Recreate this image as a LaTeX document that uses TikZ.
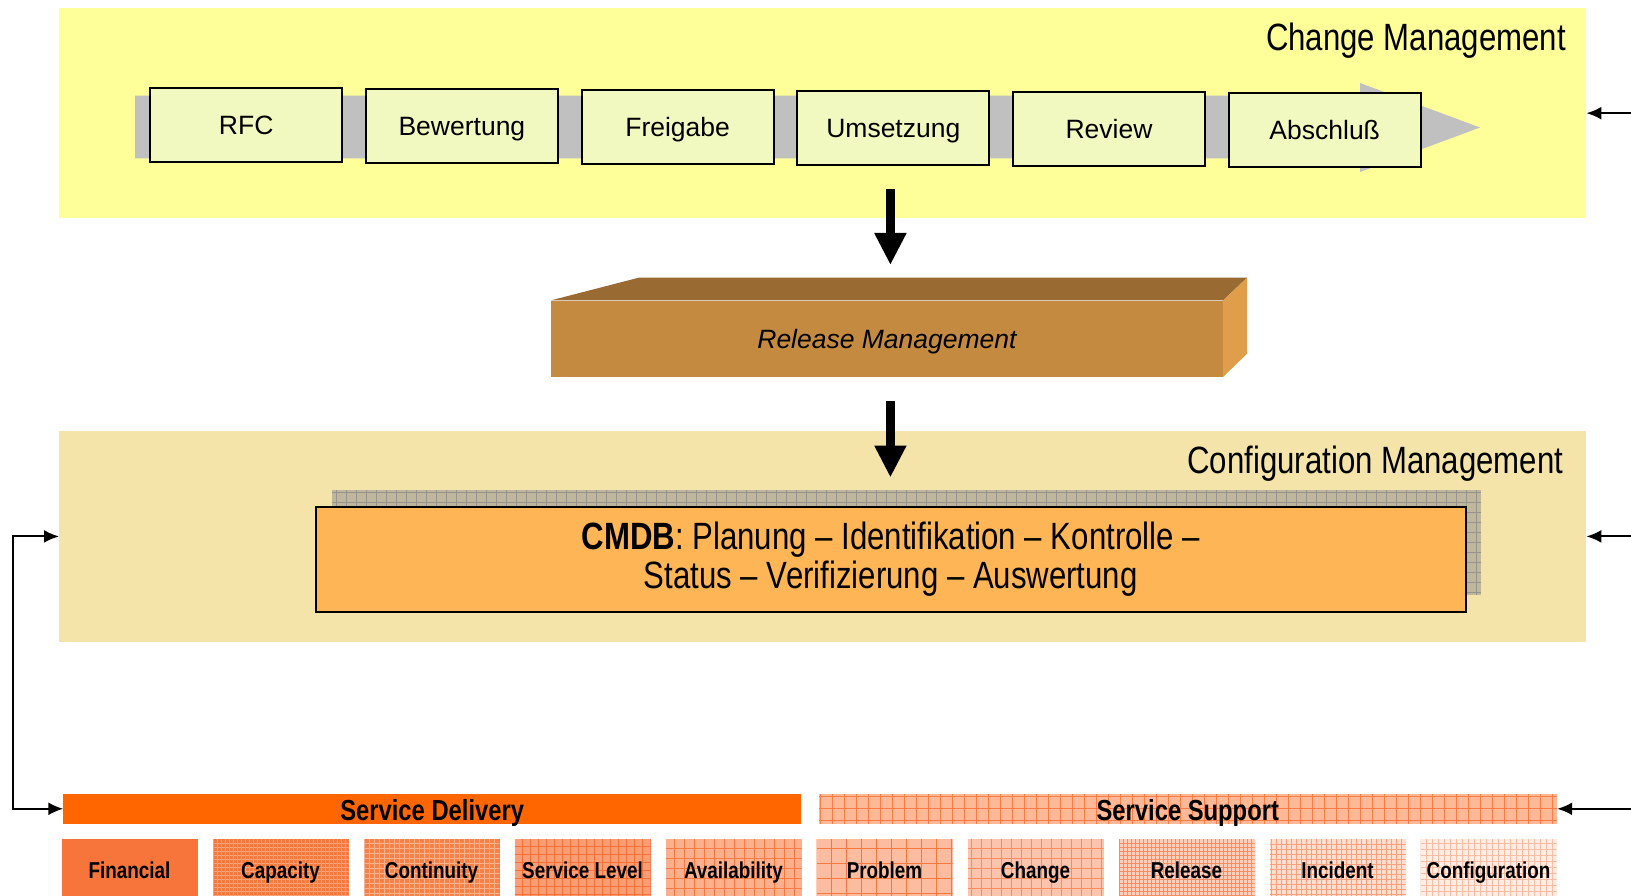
\documentclass[tikz,border=0pt]{standalone}
\usepackage{fontspec}
\setmainfont{Liberation Sans}
\newfontfamily\narrowsans[FakeStretch=0.82]{Liberation Sans}
\usetikzlibrary{arrows.meta}

\definecolor{chgyellow}{RGB}{255,255,153}
\definecolor{bandgray}{RGB}{192,192,192}
\definecolor{stepfill}{RGB}{242,249,192}
\definecolor{relfront}{RGB}{196,138,64}
\definecolor{reltop}{RGB}{153,107,51}
\definecolor{relside}{RGB}{224,158,74}
\definecolor{cfgpanel}{RGB}{245,228,170}
\definecolor{shadowfill}{RGB}{190,183,156}
\definecolor{shadowline}{RGB}{150,148,140}
\definecolor{cmdbfill}{RGB}{253,181,85}
\definecolor{sdorange}{RGB}{255,102,0}
\definecolor{ssbase}{RGB}{255,185,150}
\definecolor{ssline}{RGB}{250,125,70}
% bottom row: fill and grid-line colours
\definecolor{finF}{RGB}{247,116,58}
\definecolor{capF}{RGB}{245,122,62}   \definecolor{capL}{RGB}{250,160,120}
\definecolor{contF}{RGB}{246,130,72}  \definecolor{contL}{RGB}{252,178,140}
\definecolor{slmF}{RGB}{250,158,118}  \definecolor{slmL}{RGB}{244,112,55}
\definecolor{avaF}{RGB}{252,176,142}  \definecolor{avaL}{RGB}{246,122,66}
\definecolor{probF}{RGB}{252,188,160} \definecolor{probL}{RGB}{247,120,60}
\definecolor{chgF}{RGB}{252,196,172}  \definecolor{chgL}{RGB}{248,140,92}
\definecolor{relF}{RGB}{253,206,186}  \definecolor{relL}{RGB}{248,140,100}
\definecolor{incF}{RGB}{254,222,206}  \definecolor{incL}{RGB}{250,160,125}
\definecolor{confF}{RGB}{255,238,230} \definecolor{confL}{RGB}{250,188,162}

\begin{document}
\begin{tikzpicture}[x=1pt,y=-1pt,
  panel/.style={rectangle,inner sep=0,draw=none,anchor=north west,minimum width=1527pt},
  title/.style={anchor=base east,inner sep=0,font=\narrowsans\fontsize{38}{40}\selectfont},
  stepbox/.style={rectangle,draw=black,line width=2pt,fill=stepfill,inner sep=0,
    minimum width=192pt,minimum height=74pt,text height=19pt,text depth=0pt,
    font=\fontsize{26.5}{30}\selectfont},
  bigarrow/.style={line width=9pt,-{Triangle[length=32pt,width=30pt]}},
  conn/.style={line width=2pt,-{Latex[length=15pt,width=13pt]}},
  pat/.style n args={3}{path picture={\draw[color=#1,line width=#3]
    (path picture bounding box.south west) grid[step=#2] (path picture bounding box.north east);}},
  bar/.style={rectangle,inner sep=0,minimum height=30pt,text height=24pt,text depth=0pt,
    font=\narrowsans\bfseries\fontsize{29}{31}\selectfont},
  itil/.style={rectangle,inner sep=0,minimum width=136pt,minimum height=57.6pt,
    text height=21.3pt,text depth=0pt,
    font=\narrowsans\bfseries\fontsize{23}{25}\selectfont}
]
\useasboundingbox (0,0) rectangle (1631,896);
\fill[white] (0,0) rectangle (1631,896);

% ---------- Change Management ----------
\node[panel,fill=chgyellow,minimum height=210pt] (chg) at (59,8) {};
\node[title] (chgtitle) at (1566,51) {Change Management};
\fill[bandgray] (135,95.7) -- (1360,95.7) -- (1360,83) -- (1480,127.5)
  -- (1360,172) -- (1360,158.3) -- (135,158.3) -- cycle;
\node[stepbox] (rfc)  at (246.2,124.8)  {RFC};
\node[stepbox] (bew)  at (461.9,125.8)  {Bewertung};
\node[stepbox] (frei) at (677.6,126.9)  {Freigabe};
\node[stepbox] (ums)  at (893.3,127.9)  {Umsetzung};
\node[stepbox] (rev)  at (1109,129)     {Review};
\node[stepbox] (abs)  at (1324.7,130)   {Abschluß};

% ---------- Release Management block ----------
\node[rectangle,inner sep=0,fill=relfront,minimum width=672pt,minimum height=76pt,
  text height=20pt,text depth=0pt,
  font=\itshape\fontsize{26.5}{30}\selectfont] (rel) at (887,338.6) {Release Management};
\coordinate (relbl) at (638.7,277.7);
\coordinate (relbr) at (1247,277.7);
\coordinate (relbb) at (1247,353.7);
\fill[reltop] (rel.north west) -- (relbl) -- (relbr) -- (rel.north east) -- cycle;
\fill[relside] (rel.north east) -- (relbr) -- (relbb) -- (rel.south east) -- cycle;

\coordinate (a1s) at (890.4,189);
\coordinate (a1e) at (890.4,265);
\coordinate (a2s) at (890.4,400.5);
\coordinate (a2e) at (890.4,477.5);

% ---------- Configuration Management ----------
\node[panel,fill=cfgpanel,minimum height=211pt] (cfg) at (59,430.7) {};
\node[title] (cfgtitle) at (1563.5,473) {Configuration Management};
\node[rectangle,inner sep=0,fill=shadowfill,minimum width=1149.2pt,minimum height=105pt,
  pat={shadowline}{10pt}{0.8pt}] (cmdbshadow) at (906.4,542.5) {};
\node[rectangle,draw=black,line width=2pt,fill=cmdbfill,inner sep=0,
  minimum width=1149.6pt,minimum height=105pt,align=center,
  font=\narrowsans\fontsize{38}{39}\selectfont] (cmdb) at (890.8,559.1)
  {\textbf{CMDB}: Planung – Identifikation – Kontrolle –\\Status – Verifizierung – Auswertung};

\draw[bigarrow] (a1s) -- (a1e);
\draw[bigarrow] (a2s) -- (a2e);

% ---------- Service Delivery / Service Support ----------
\node[bar,fill=sdorange,minimum width=737.5pt] (sd) at (432.2,808.8) {Service Delivery};
\node[bar,fill=ssbase,minimum width=738.4pt,pat={ssline}{12pt}{0.8pt}] (ss) at (1187.8,808.8) {Service Support};

\node[itil,fill=finF] (fin) at (129.5,868.2) {Financial};
\node[itil,fill=capF,pat={capL}{4pt}{0.6pt}] (cap) at (280.5,868.2) {Capacity};
\node[itil,fill=contF,pat={contL}{5pt}{1pt}] (cont) at (431.5,868.2) {Continuity};
\node[itil,fill=slmF,pat={slmL}{8pt}{1.2pt}] (slm) at (582.5,868.2) {Service Level};
\node[itil,fill=avaF,pat={avaL}{10pt}{1pt}] (ava) at (733.5,868.2) {Availability};
\node[itil,fill=probF,pat={probL}{15pt}{1.2pt}] (prob) at (884.5,868.2) {Problem};
\node[itil,fill=chgF,pat={chgL}{10pt}{0.8pt}] (chgp) at (1035.5,868.2) {Change};
\node[itil,fill=relF,pat={relL}{4pt}{0.7pt}] (relp) at (1186.5,868.2) {Release};
\node[itil,fill=incF,pat={incL}{5pt}{0.7pt}] (inc) at (1337.5,868.2) {Incident};
\node[itil,fill=confF,pat={confL}{6pt}{0.6pt}] (conf) at (1488.5,868.2) {Configuration};

% ---------- feedback connectors ----------
\coordinate (lc) at (12.5,0);
\coordinate (rc) at (1631,0);
\draw[conn,{Latex[length=15pt,width=13pt]}-{Latex[length=15pt,width=13pt]}]
  (cfg.west) -- (cfg.west -| lc) |- (sd.west);
\draw[conn] (chg.east -| rc) -- (chg.east);
\draw[conn] (cfg.east -| rc) -- (cfg.east);
\draw[conn] (ss.east -| rc) -- (ss.east);
\end{tikzpicture}
\end{document}
